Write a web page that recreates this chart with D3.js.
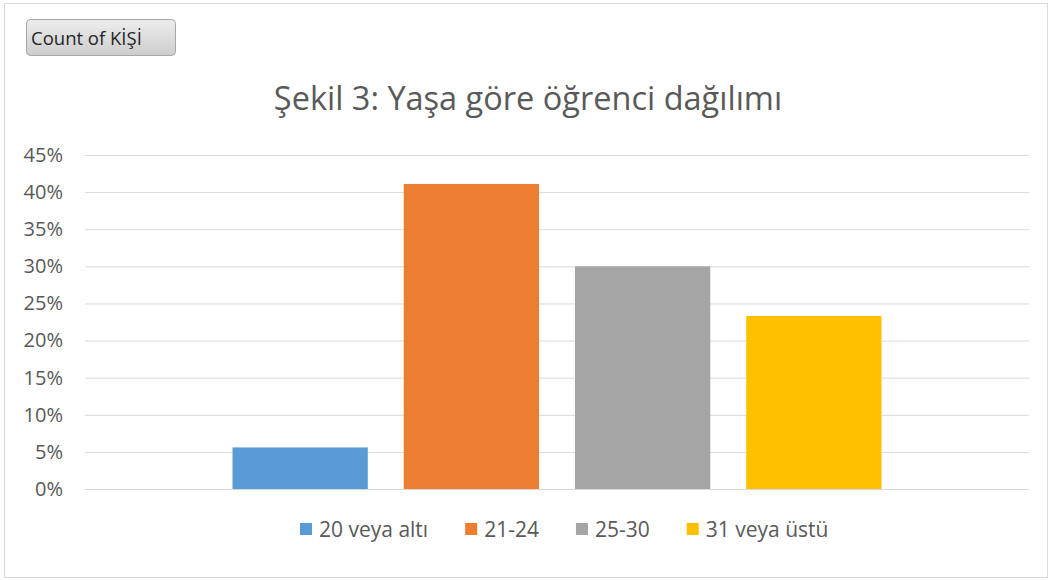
<!DOCTYPE html>
<html>
<head>
<meta charset="utf-8">
<script src="https://cdn.jsdelivr.net/npm/d3@7"></script>
<style>
  body { margin: 0; background: #fff; }
  svg { display: block; font-family: "Open Sans", "Noto Sans", sans-serif; }
</style>
</head>
<body>
<svg id="chart" width="1050" height="580"></svg>
<script>
// chart data
const seriesNames = ["20 veya altı", "21-24", "25-30", "31 veya üstü"];
const seriesValues = [0.056, 0.411, 0.300, 0.233];
const seriesColors = ["#5B9BD5", "#ED7D31", "#A5A5A5", "#FFC000"];
const yTicks = [0, 0.05, 0.10, 0.15, 0.20, 0.25, 0.30, 0.35, 0.40, 0.45];
const category = ["Total"];
const chartTitle = "Şekil 3: Yaşa göre öğrenci dağılımı";
const fieldButton = "Count of KİŞİ";

const svg = d3.select("#chart");

// outer frame
svg.append("rect")
  .attr("x", 4.5).attr("y", 3.5)
  .attr("width", 1043).attr("height", 574)
  .style("fill", "#fff")
  .style("stroke", "#d9d9d9");

// field button
const grad = svg.append("defs").append("linearGradient")
  .attr("id", "btn").attr("x1", 0).attr("y1", 0).attr("x2", 0).attr("y2", 1);
grad.append("stop").attr("offset", "0%").attr("stop-color", "#ededed");
grad.append("stop").attr("offset", "100%").attr("stop-color", "#cdcdcd");

svg.append("rect")
  .attr("x", 26.5).attr("y", 19.5)
  .attr("width", 149).attr("height", 36)
  .attr("rx", 4)
  .style("fill", "url(#btn)")
  .style("stroke", "#a6a6a6");
svg.append("text")
  .attr("x", 31).attr("y", 45)
  .style("font-size", "18.5px")
  .style("fill", "#262626")
  .text(fieldButton);

// title
svg.append("text")
  .attr("x", 528).attr("y", 110)
  .attr("text-anchor", "middle")
  .style("font-size", "32.5px")
  .style("fill", "#595959")
  .text(chartTitle);

const plotLeft = 85, plotRight = 1029, plotTop = 155, plotBottom = 489;

const y = d3.scaleLinear().domain([0, 0.45]).range([plotBottom, plotTop]);

const x0 = d3.scaleBand().domain(category).range([plotLeft, plotRight])
  .paddingInner(0).paddingOuter(0.2273);
const x1 = d3.scaleBand().domain(seriesNames).range([0, x0.bandwidth()])
  .paddingInner(0.21).paddingOuter(0);

// gridlines + labels
const yAxis = d3.axisLeft(y)
  .tickValues(yTicks)
  .tickSize(-(plotRight - plotLeft))
  .tickPadding(22)
  .tickFormat(d3.format(".0%"));

const gAxis = svg.append("g")
  .attr("transform", `translate(${plotLeft},0)`)
  .call(yAxis);
gAxis.select(".domain").remove();
gAxis.selectAll(".tick line").style("stroke", "#d9d9d9").style("stroke-width", 1);
gAxis.selectAll(".tick text")
  .style("font-size", "20px")
  .style("fill", "#595959")
  .style("font-family", "\"Open Sans\", sans-serif");

// bars
const data = seriesNames.map((s, i) => ({ series: s, value: seriesValues[i], color: seriesColors[i] }));

svg.append("g").selectAll(".bar")
  .data(data)
  .enter()
  .append("rect")
  .attr("class", "bar")
  .attr("x", d => x0("Total") + x1(d.series))
  .attr("y", d => y(d.value))
  .attr("width", x1.bandwidth())
  .attr("height", d => plotBottom - y(d.value))
  .style("fill", d => d.color);

// legend, laid out left to right from measured text widths
const legend = svg.append("g").selectAll(".legend")
  .data(data)
  .enter()
  .append("g")
  .attr("class", "legend");
legend.append("rect")
  .attr("y", 523)
  .attr("width", 12).attr("height", 12)
  .style("fill", d => d.color);
legend.append("text")
  .attr("x", 19).attr("y", 537)
  .style("font-size", "21px")
  .style("fill", "#595959")
  .text(d => d.series);

let lx = 300;
legend.each(function() {
  const w = d3.select(this).select("text").node().getComputedTextLength();
  d3.select(this).attr("transform", `translate(${lx},0)`);
  lx += 19 + w + 37;
});
</script>
</body>
</html>
